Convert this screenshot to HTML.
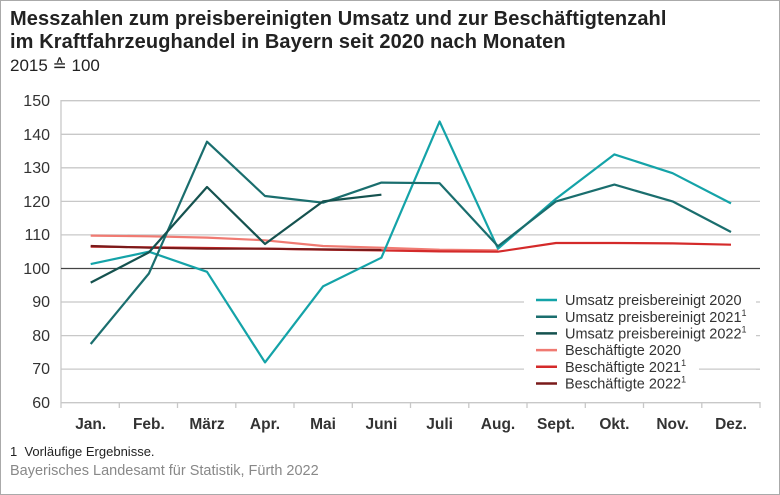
<!DOCTYPE html>
<html><head><meta charset="utf-8"><style>
body{margin:0;width:780px;height:495px;overflow:hidden;background:#fff;font-family:"Liberation Sans",sans-serif;}
.frame{position:absolute;left:0;top:0;width:778px;height:493px;border:1px solid #aaa;}
.t{position:absolute;left:10px;color:#222;}
</style></head><body>
<div class="frame"></div>
<div class="t" style="top:8px;font-size:20px;font-weight:bold;line-height:23px;letter-spacing:0.1px">Messzahlen zum preisbereinigten Umsatz und zur Beschäftigtenzahl<br>im Kraftfahrzeughandel in Bayern seit 2020 nach Monaten</div>
<div class="t" style="top:56px;font-size:17px">2015 ≙ 100</div>
<div class="t" style="top:444px;font-size:13px">1&nbsp; Vorläufige Ergebnisse.</div>
<div class="t" style="top:463px;font-size:14.5px;color:#888">Bayerisches Landesamt für Statistik, Fürth 2022</div>
<svg width="780" height="495" style="position:absolute;left:0;top:0" font-family="Liberation Sans, sans-serif">
<g stroke="#c8c8c8" stroke-width="1.3">
<line x1="61" x2="760" y1="100.7" y2="100.7"/><line x1="61" x2="760" y1="134.3" y2="134.3"/>
<line x1="61" x2="760" y1="167.8" y2="167.8"/><line x1="61" x2="760" y1="201.4" y2="201.4"/>
<line x1="61" x2="760" y1="234.9" y2="234.9"/><line x1="61" x2="760" y1="302" y2="302"/>
<line x1="61" x2="760" y1="335.6" y2="335.6"/><line x1="61" x2="760" y1="369.1" y2="369.1"/>
<line x1="61" x2="760" y1="402.7" y2="402.7"/><line x1="61" x2="61" y1="100" y2="408"/>
<line x1="119.3" x2="119.3" y1="402" y2="408"/><line x1="177.5" x2="177.5" y1="402" y2="408"/>
<line x1="235.8" x2="235.8" y1="402" y2="408"/><line x1="294" x2="294" y1="402" y2="408"/>
<line x1="352.3" x2="352.3" y1="402" y2="408"/><line x1="410.5" x2="410.5" y1="402" y2="408"/>
<line x1="468.8" x2="468.8" y1="402" y2="408"/><line x1="527" x2="527" y1="402" y2="408"/>
<line x1="585.3" x2="585.3" y1="402" y2="408"/><line x1="643.5" x2="643.5" y1="402" y2="408"/>
<line x1="701.8" x2="701.8" y1="402" y2="408"/><line x1="760" x2="760" y1="402" y2="408"/>
</g>
<line x1="61" x2="760" y1="268.5" y2="268.5" stroke="#444" stroke-width="1.3"/>
<g font-size="16" fill="#333" text-anchor="end">
<text x="50" y="106">150</text><text x="50" y="140">140</text><text x="50" y="173">130</text>
<text x="50" y="207">120</text><text x="50" y="240">110</text><text x="50" y="274">100</text>
<text x="50" y="307">90</text><text x="50" y="341">80</text><text x="50" y="374">70</text><text x="50" y="408">60</text>
</g>
<g font-size="15.5" font-weight="bold" fill="#333" text-anchor="middle">
<text x="90.7" y="429">Jan.</text><text x="148.9" y="429">Feb.</text><text x="207" y="429">März</text>
<text x="265" y="429">Apr.</text><text x="323" y="429">Mai</text><text x="381.4" y="429">Juni</text>
<text x="439.6" y="429">Juli</text><text x="498" y="429">Aug.</text><text x="556" y="429">Sept.</text>
<text x="614.4" y="429">Okt.</text><text x="672.6" y="429">Nov.</text><text x="731" y="429">Dez.</text>
</g>
<g fill="none" stroke-width="2.2" stroke-linejoin="round">
<polyline stroke="#f07a72" points="90.7,235.6 148.9,236.3 207,237.6 265,240.3 323,246 381.4,247.7 439.6,249.7 498,250.4"/>
<polyline stroke="#d42a2a" points="90.7,246.7 148.9,247.3 207,248 265,248.7 323,249.7 381.4,250.4 439.6,251.4 498,251.7 556,243 614.4,243 672.6,243.4 731,244.7"/>
<polyline stroke="#7a1a1a" points="90.7,246 148.9,247.7 207,248.7 265,248.7 323,249.4 381.4,250"/>
<polyline stroke="#14a3a8" points="90.7,264.1 148.9,251.7 207,271.8 265,362.4 323,286.4 381.4,257.7 439.6,121.5 498,248.7 556,198.7 614.4,154.4 672.6,173.2 731,203.4"/>
<polyline stroke="#1a6e6e" points="90.7,344 148.9,273.5 207,141.7 265,196 323,202.7 381.4,182.6 439.6,183.2 498,246.3 556,201.4 614.4,184.6 672.6,201.4 731,232"/>
<polyline stroke="#15524f" points="90.7,282.6 148.9,252.4 207,187 265,244 323,201.4 381.4,194.7"/>
</g>
<rect x="524" y="284" width="232" height="108" fill="#fff"/>
<line x1="699" x2="760" y1="369.1" y2="369.1" stroke="#c8c8c8" stroke-width="1.3"/>
<g stroke-width="2.5">
<line x1="536" x2="557" y1="300" y2="300" stroke="#14a3a8"/>
<line x1="536" x2="557" y1="316.7" y2="316.7" stroke="#1a6e6e"/>
<line x1="536" x2="557" y1="333.4" y2="333.4" stroke="#15524f"/>
<line x1="536" x2="557" y1="350.1" y2="350.1" stroke="#f07a72"/>
<line x1="536" x2="557" y1="366.8" y2="366.8" stroke="#d42a2a"/>
<line x1="536" x2="557" y1="383.5" y2="383.5" stroke="#7a1a1a"/>
</g>
<g font-size="14.5" fill="#333">
<text x="565" y="305">Umsatz preisbereinigt 2020</text>
<text x="565" y="322">Umsatz preisbereinigt 2021<tspan font-size="9" dy="-6">1</tspan></text>
<text x="565" y="338.5">Umsatz preisbereinigt 2022<tspan font-size="9" dy="-6">1</tspan></text>
<text x="565" y="355">Beschäftigte 2020</text>
<text x="565" y="372">Beschäftigte 2021<tspan font-size="9" dy="-6">1</tspan></text>
<text x="565" y="388.5">Beschäftigte 2022<tspan font-size="9" dy="-6">1</tspan></text>
</g>
</svg>
</body></html>
